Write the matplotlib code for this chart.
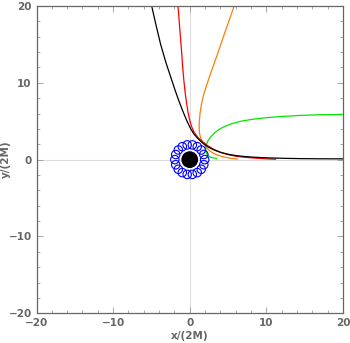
import numpy as np
import matplotlib
matplotlib.use("Agg")
from matplotlib import pyplot as plt
from matplotlib.patches import Circle

# trajectories (units of 2M)
black_x = [-4.97, -4.4, -3.8, -3.1, -2.4, -1.9, -1.4, -0.9, -0.4, 0.1, 0.57, 1.1, 1.66, 2.4, 3.18,
           4.05, 5.0, 6.0, 7.0, 8.3, 10.15, 12.3, 14.5, 17.0, 20.0]
black_y = [20.0, 17.5, 15.0, 12.6, 10.5, 9.0, 7.6, 6.3, 5.1, 4.05, 3.3, 2.7, 2.18, 1.65, 1.25,
           0.93, 0.7, 0.53, 0.42, 0.32, 0.23, 0.17, 0.13, 0.11, 0.1]

red_x = [-1.53, -1.38, -1.22, -1.06, -0.92, -0.78, -0.62, -0.45, -0.25, -0.05, 0.2, 0.57, 1.1,
         1.66, 2.3, 3.1, 4.05, 5.0, 6.0, 7.0, 8.5, 10.0, 11.2]
red_y = [20.0, 18.0, 16.0, 14.0, 12.0, 10.4, 8.9, 7.6, 6.3, 5.3, 4.4, 3.55, 2.85,
         2.35, 1.85, 1.35, 0.95, 0.65, 0.45, 0.32, 0.2, 0.1, 0.05]

orange_x = [5.8, 4.6, 3.5, 2.75, 2.2, 1.8, 1.52, 1.34, 1.24, 1.23, 1.3, 1.44, 1.65, 1.9, 2.2,
            2.6, 3.1, 3.6, 4.1, 4.9, 5.6, 6.2]
orange_y = [20.0, 16.6, 13.4, 11.3, 9.7, 8.4, 7.2, 6.0, 4.9, 4.0, 3.3, 2.8, 2.35, 1.95, 1.55,
            1.15, 0.82, 0.6, 0.43, 0.25, 0.14, 0.08]

green_x = [20.0, 17.0, 14.5, 12.0, 10.0, 8.3, 6.8, 5.6, 4.6, 3.8, 3.2, 2.75, 2.4, 2.18, 2.08,
           2.1, 2.25, 2.5, 2.85, 3.2, 3.5]
green_y = [5.88, 5.84, 5.76, 5.62, 5.46, 5.27, 5.02, 4.72, 4.35, 3.92, 3.45, 2.98, 2.5, 2.0, 1.5,
           1.05, 0.68, 0.42, 0.27, 0.2, 0.17]

horizon_r = 1.0
ring_r = 1.95
bead_r = 0.55
n_beads = 18

fig = plt.figure(figsize=(3.5, 3.43), dpi=100)
ax = fig.add_axes([0.1043, 0.0866, 0.8757, 0.896])

ax.axhline(0, color="#dddddd", lw=0.8, zorder=0)
ax.axvline(0, color="#dddddd", lw=0.8, zorder=0)

ax.plot(orange_x, orange_y, color="#ff7f00", lw=0.9)
ax.plot(green_x, green_y, color="#00e600", lw=0.9)
ax.plot(red_x, red_y, color="#ff0000", lw=0.9)
ax.plot(black_x, black_y, color="black", lw=0.9)

ax.add_patch(Circle((0, 0), horizon_r, color="black", zorder=3))
ang = np.arange(n_beads) * 2 * np.pi / n_beads
for a in ang:
    ax.add_patch(Circle((ring_r * np.cos(a), ring_r * np.sin(a)), bead_r,
                        fill=False, ec="#0000ff", lw=0.8, zorder=4))

ax.set_xlim(-20, 20)
ax.set_ylim(-20, 20)
ax.set_xticks([-20, -10, 0, 10, 20])
ax.set_yticks([-20, -10, 0, 10, 20])
ax.set_xticks(np.arange(-20, 21, 2), minor=True)
ax.set_yticks(np.arange(-20, 21, 2), minor=True)
ax.tick_params(which="both", direction="in", colors="#999999", labelcolor="#666666",
               labelsize=7.5, width=0.6, top=True, right=True)
ax.tick_params(which="major", length=4)
ax.tick_params(which="minor", length=2)
for lab in ax.get_xticklabels() + ax.get_yticklabels():
    lab.set_fontweight("bold")
for s in ax.spines.values():
    s.set_color("#666666")
    s.set_linewidth(0.9)

ax.set_xlabel("x/(2M)", fontsize=7.5, color="#666666", labelpad=2, fontweight="bold")
ax.set_ylabel("y/(2M)", fontsize=7.5, color="#666666", fontweight="bold")
ax.yaxis.set_label_coords(-0.085, 0.5)

plt.savefig("out.png", dpi=100)
